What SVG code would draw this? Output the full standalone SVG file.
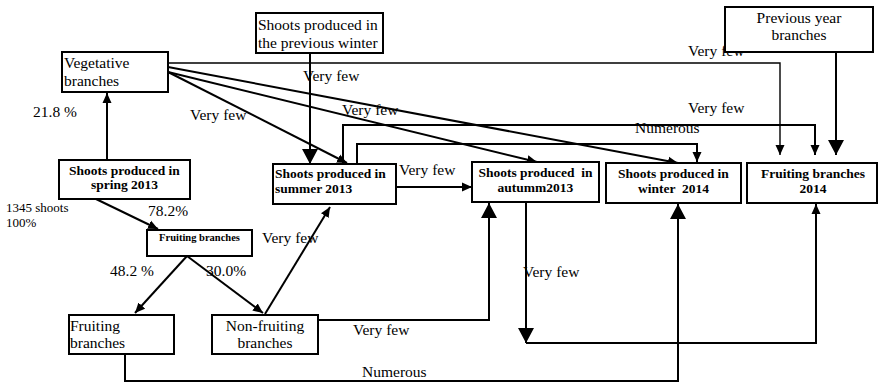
<svg xmlns="http://www.w3.org/2000/svg" width="878" height="382" viewBox="0 0 878 382">
<style>
.box{fill:#fff;stroke:#000;stroke-width:2}
.t{font-family:"Liberation Serif","Times New Roman",serif;font-size:15.5px;fill:#000}
.b{font-family:"Liberation Serif","Times New Roman",serif;font-size:13.5px;font-weight:bold;fill:#000}
.s{font-family:"Liberation Serif","Times New Roman",serif;font-size:10.5px;font-weight:bold;fill:#000}
.n{font-family:"Liberation Serif","Times New Roman",serif;font-size:13px;fill:#000}
.c{text-anchor:middle}
.ln{fill:none;stroke:#000;stroke-width:2}
.sm{marker-end:url(#as)}
.bg{marker-end:url(#ab)}
</style>
<defs>
<marker id="as" markerUnits="userSpaceOnUse" markerWidth="10" markerHeight="10" viewBox="0 0 10 10" refX="10" refY="5" orient="auto"><path d="M0,0.5 L10,5 L0,9.5 z" fill="#000"/></marker>
<marker id="ab" markerUnits="userSpaceOnUse" markerWidth="15" markerHeight="16" viewBox="0 0 15 16" refX="15" refY="8" orient="auto"><path d="M0,0 L15,8 L0,16 z" fill="#000"/></marker>
</defs>
<g id="connectors">
<path class="ln sm" d="M107,160 L107,93"/>
<path class="ln bg" d="M310,53 L310,164"/>
<path class="ln sm" d="M168,72 L347,163"/>
<path class="ln sm" d="M168,72 L537,162"/>
<path class="ln sm" d="M168,67 L678,163"/>
<path class="ln sm" style="stroke-width:1.4" d="M166,63 L780,63 L780,155"/>
<path class="ln sm" d="M343,164 L343,125 L815,125 L815,155"/>
<path class="ln sm" d="M357,164 L357,144 L697,144 L697,162"/>
<path class="ln bg" d="M836,52 L836,155"/>
<path class="ln sm" d="M397,187 L472,187"/>
<path class="ln sm" d="M96,199 L158,229"/>
<path class="ln sm" d="M187,256 L135,313"/>
<path class="ln sm" d="M187,256 L263,313"/>
<path class="ln sm" d="M265,314 L330,207"/>
<path class="ln bg" d="M318,320 L489,320 L489,203"/>
<path class="ln bg" d="M125,355 L125,381 L678,381 L678,204"/>
<path class="ln bg" d="M526,202 L526,343"/>
<path class="ln sm" d="M526,343 L816,343 L816,204"/>
<text class="t" x="190" y="120">Very few</text>
<text class="t" x="303" y="81">Very few</text>
<text class="t" x="342" y="115">Very few</text>
<text class="t" x="688" y="56">Very few</text>
<text class="t" x="688" y="113">Very few</text>
<text class="t" x="635" y="133">Numerous</text>
<text class="t" x="399" y="175">Very few</text>
<text class="t" x="33" y="117">21.8 %</text>
<text class="t" x="148" y="216">78.2%</text>
<text class="n" x="6" y="212">1345 shoots</text>
<text class="n" x="6" y="227">100%</text>
<text class="t" x="110" y="276">48.2 %</text>
<text class="t" x="206" y="276">30.0%</text>
<text class="t" x="262" y="243">Very few</text>
<text class="t" x="353" y="335">Very few</text>
<text class="t" x="362" y="377">Numerous</text>
<text class="t" x="523" y="277">Very few</text>
</g>
<g id="vegetative">
<rect class="box" x="62" y="52" width="106" height="40"/>
<text class="t" x="64" y="68">Vegetative</text>
<text class="t" x="64" y="86">branches</text>
</g>
<g id="prev-winter">
<rect class="box" x="256" y="13" width="127" height="40"/>
<text class="t" x="258" y="29.5">Shoots produced in</text>
<text class="t" x="258" y="48">the previous winter</text>
</g>
<g id="prev-year">
<rect class="box" x="725" y="7" width="148" height="45"/>
<text class="t c" x="799" y="23">Previous year</text>
<text class="t c" x="799" y="40">branches</text>
</g>
<g id="spring">
<rect class="box" x="59" y="160" width="131" height="39"/>
<text class="b c" x="124.5" y="175">Shoots produced in</text>
<text class="b c" x="124.5" y="189">spring 2013</text>
</g>
<g id="summer">
<rect class="box" x="273" y="164" width="123" height="40"/>
<text class="b" x="275" y="178">Shoots produced in</text>
<text class="b" x="275" y="193">summer 2013</text>
</g>
<g id="autumn">
<rect class="box" x="472" y="162" width="127" height="40"/>
<text class="b c" x="535.5" y="177" xml:space="preserve">Shoots produced  in</text>
<text class="b c" x="535.5" y="192">autumm2013</text>
</g>
<g id="winter">
<rect class="box" x="606" y="163" width="135" height="40"/>
<text class="b c" x="673.5" y="178">Shoots produced in</text>
<text class="b c" x="673.5" y="193" xml:space="preserve">winter  2014</text>
</g>
<g id="fruiting-2014">
<rect class="box" x="747" y="163" width="130" height="40"/>
<text class="b c" x="813" y="178">Fruiting branches</text>
<text class="b c" x="813" y="193">2014</text>
</g>
<g id="fruiting-small">
<rect class="box" x="147" y="230" width="105" height="26"/>
<text class="s c" x="199.5" y="241">Fruiting branches</text>
</g>
<g id="fruiting">
<rect class="box" x="69" y="315" width="105" height="39"/>
<text class="t" x="70" y="331">Fruiting</text>
<text class="t" x="70" y="348">branches</text>
</g>
<g id="non-fruiting">
<rect class="box" x="212" y="315" width="106" height="39"/>
<text class="t c" x="265" y="331">Non-fruiting</text>
<text class="t c" x="265" y="348">branches</text>
</g>
</svg>
